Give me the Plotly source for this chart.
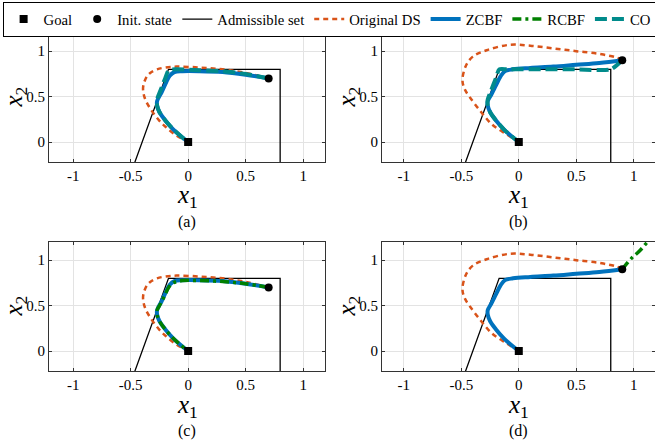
import plotly.graph_objects as go

# ---------------- data ----------------
goal = (0.0, 0.0)
init_ac = (0.7, 0.7)
init_bd = (0.9, 0.9)

adm_x = [-0.5, -0.171, 0.8, 0.8]
adm_y = [-0.35, 0.8, 0.8, -0.35]

ds_ac_x = [0.7, 0.5, 0.3, 0.1, -0.1, -0.2, -0.27, -0.33, -0.36, -0.39, -0.39, -0.37, -0.32, -0.24, -0.19, -0.1, 0.0]
ds_ac_y = [0.7, 0.76, 0.8, 0.82, 0.83, 0.82, 0.8, 0.76, 0.72, 0.62, 0.55, 0.46, 0.35, 0.22, 0.16, 0.07, 0.0]

ds_bd_x = [0.9, 0.85, 0.7, 0.5, 0.3, 0.1, -0.08, -0.28, -0.4, -0.46, -0.49, -0.47, -0.43, -0.34, -0.23, -0.1, 0.0]
ds_bd_y = [0.9, 0.93, 0.97, 1.0, 1.03, 1.06, 1.07, 1.01, 0.94, 0.84, 0.68, 0.58, 0.5, 0.35, 0.19, 0.08, 0.0]

zc_ac_x = [0.7, 0.5, 0.3, 0.1, -0.05, -0.12, -0.16, -0.19, -0.23, -0.27, -0.27, -0.25, -0.2, -0.13, -0.06, 0.0]
zc_ac_y = [0.7, 0.74, 0.77, 0.78, 0.78, 0.77, 0.73, 0.66, 0.55, 0.45, 0.4, 0.33, 0.24, 0.14, 0.06, 0.0]

zc_bd_x = [0.9, 0.7, 0.5, 0.3, 0.1, -0.05, -0.12, -0.16, -0.2, -0.24, -0.27, -0.27, -0.25, -0.2, -0.13, -0.06, 0.0]
zc_bd_y = [0.9, 0.87, 0.85, 0.83, 0.815, 0.8, 0.78, 0.72, 0.62, 0.52, 0.45, 0.4, 0.33, 0.24, 0.14, 0.06, 0.0]

co_a_x = [0.7, 0.5, 0.3, 0.1, -0.1, -0.17, -0.2, -0.24, -0.27, -0.27, -0.25, -0.2, -0.13, -0.06, 0.0]
co_a_y = [0.7, 0.75, 0.78, 0.79, 0.8, 0.79, 0.7, 0.57, 0.47, 0.4, 0.33, 0.24, 0.14, 0.06, 0.0]

co_b_x = [0.9, 0.8, 0.5, 0.2, -0.1, -0.17, -0.2, -0.24, -0.27, -0.27, -0.25, -0.2, -0.13, -0.06, 0.0]
co_b_y = [0.9, 0.8, 0.8, 0.8, 0.8, 0.8, 0.7, 0.57, 0.47, 0.4, 0.33, 0.24, 0.14, 0.06, 0.0]

rc_c_x = [0.7, 0.5, 0.3, 0.1, -0.05, -0.13, -0.17, -0.2, -0.24, -0.27, -0.27, -0.25, -0.2, -0.13, -0.06, 0.0]
rc_c_y = [0.7, 0.74, 0.765, 0.775, 0.775, 0.75, 0.7, 0.62, 0.52, 0.45, 0.4, 0.33, 0.24, 0.14, 0.06, 0.0]

rc_d_x = [0.9, 0.98, 1.05, 1.12, 1.2, 1.3]
rc_d_y = [0.9, 1.02, 1.1, 1.2, 1.3, 1.42]

tick_x = [-1, -0.5, 0, 0.5, 1]
tick_x_text = ["-1", "-0.5", "0", "0.5", "1"]
tick_y = [0, 0.5, 1]
tick_y_text = ["0", "0.5", "1"]
captions = ["(a)", "(b)", "(c)", "(d)"]

# ---------------- styles ----------------
C_DS = "#D95319"
C_ZC = "#0072BD"
C_RC = "#008000"
C_CO = "#008B8B"
FONT = "Liberation Serif, Times New Roman, Times, serif"

W, H = 655, 447
panels = [
    dict(xd=(49 / W, 325 / W), yd=(1 - 162 / H, 1 - 33 / H), xr=(-1.21, 1.19)),
    dict(xd=(382 / W, 1.0), yd=(1 - 162 / H, 1 - 33 / H), xr=(-1.19, 1.185)),
    dict(xd=(49 / W, 325 / W), yd=(1 - 371 / H, 1 - 242 / H), xr=(-1.21, 1.19)),
    dict(xd=(382 / W, 1.0), yd=(1 - 371 / H, 1 - 242 / H), xr=(-1.19, 1.185)),
]

fig = go.Figure()

def add(i, x, y, name, show, rank, **kw):
    s = "" if i == 0 else str(i + 1)
    fig.add_trace(go.Scatter(x=x, y=y, name=name, showlegend=show, legendrank=rank,
                             xaxis="x" + s, yaxis="y" + s, hoverinfo="skip", **kw))

lines = {
    0: (ds_ac_x, ds_ac_y, zc_ac_x, zc_ac_y, None, co_a_x, co_a_y, init_ac),
    1: (ds_bd_x, ds_bd_y, zc_bd_x, zc_bd_y, None, co_b_x, co_b_y, init_bd),
    2: (ds_ac_x, ds_ac_y, zc_ac_x, zc_ac_y, (rc_c_x, rc_c_y), None, None, init_ac),
    3: (ds_bd_x, ds_bd_y, zc_bd_x, zc_bd_y, (rc_d_x, rc_d_y), None, None, init_bd),
}

for i in range(4):
    dsx, dsy, zx, zy, rc, cx, cy, ini = lines[i]
    add(i, adm_x, adm_y, "Admissible set", i == 0, 3, mode="lines",
        line=dict(color="black", width=1.3))
    add(i, dsx, dsy, "Original DS", i == 0, 4, mode="lines",
        line=dict(color=C_DS, width=2.5, dash="5px,4px", shape="spline"))
    add(i, zx, zy, "ZCBF", i == 0, 5, mode="lines",
        line=dict(color=C_ZC, width=4, shape="spline"))
    if rc is not None:
        add(i, rc[0], rc[1], "RCBF", i == 2, 6, mode="lines",
            line=dict(color=C_RC, width=3.5, dash="9px,4px,3px,4px", shape="spline"))
    if cx is not None:
        add(i, cx, cy, "CO", i == 0, 7, mode="lines",
            line=dict(color=C_CO, width=4, dash="12px,5px", shape="spline", smoothing=0.6))
    add(i, [goal[0]], [goal[1]], "Goal", i == 0, 1, mode="markers",
        marker=dict(symbol="square", color="black", size=8))
    add(i, [ini[0]], [ini[1]], "Init. state", i == 0, 2, mode="markers",
        marker=dict(symbol="circle", color="black", size=8))

layout = dict(
    width=W, height=H,
    margin=dict(l=0, r=0, t=0, b=0, autoexpand=False),
    paper_bgcolor="white", plot_bgcolor="white",
    font=dict(family=FONT, size=15, color="black"),
    legend=dict(orientation="h", x=0.004, y=1 - 2 / H, xanchor="left", yanchor="top",
                bordercolor="black", borderwidth=1, bgcolor="white",
                font=dict(family=FONT, size=14.7), itemwidth=30,
                tracegroupgap=0, traceorder="normal"),
    annotations=[],
)

for i, p in enumerate(panels):
    s = "" if i == 0 else str(i + 1)
    layout["xaxis" + s] = dict(
        domain=list(p["xd"]), range=list(p["xr"]), anchor="y" + s,
        tickvals=tick_x, ticktext=tick_x_text, tickfont=dict(family=FONT, size=15),
        showgrid=True, gridcolor="#e3e3e3", gridwidth=1, zeroline=False,
        showline=True, linecolor="#333333", linewidth=1, mirror="allticks",
        ticks="inside", ticklen=3, tickcolor="#333333",
    )
    layout["yaxis" + s] = dict(
        domain=list(p["yd"]), range=[-0.22, 1.2], anchor="x" + s,
        tickvals=tick_y, ticktext=tick_y_text, tickfont=dict(family=FONT, size=15),
        showgrid=True, gridcolor="#e3e3e3", gridwidth=1, zeroline=False,
        showline=True, linecolor="#333333", linewidth=1, mirror="allticks",
        ticks="inside", ticklen=3, tickcolor="#333333",
    )
    xc = (p["xd"][0] + p["xd"][1]) / 2 if i % 2 == 0 else (382 / W + 655 / W) / 2
    ybot = p["yd"][0]
    # x-axis title
    layout["annotations"].append(dict(
        text="<i>x</i><sub>1</sub>", xref="paper", yref="paper",
        x=xc, y=ybot - 35 / H, showarrow=False, font=dict(family=FONT, size=25),
        xanchor="center", yanchor="middle"))
    # y-axis title
    layout["annotations"].append(dict(
        text="<i>x</i><sub>2</sub>", xref="paper", yref="paper", textangle=-90,
        x=p["xd"][0] - 34 / W, y=(p["yd"][0] + p["yd"][1]) / 2, showarrow=False,
        font=dict(family=FONT, size=25), xanchor="center", yanchor="middle"))
    # caption
    layout["annotations"].append(dict(
        text=captions[i], xref="paper", yref="paper",
        x=xc, y=ybot - 60 / H, showarrow=False, font=dict(family=FONT, size=16),
        xanchor="center", yanchor="middle"))

fig.update_layout(**layout)
fig.write_html("out.html", config={"displayModeBar": False},
               post_script="document.body.style.margin='0px';")
